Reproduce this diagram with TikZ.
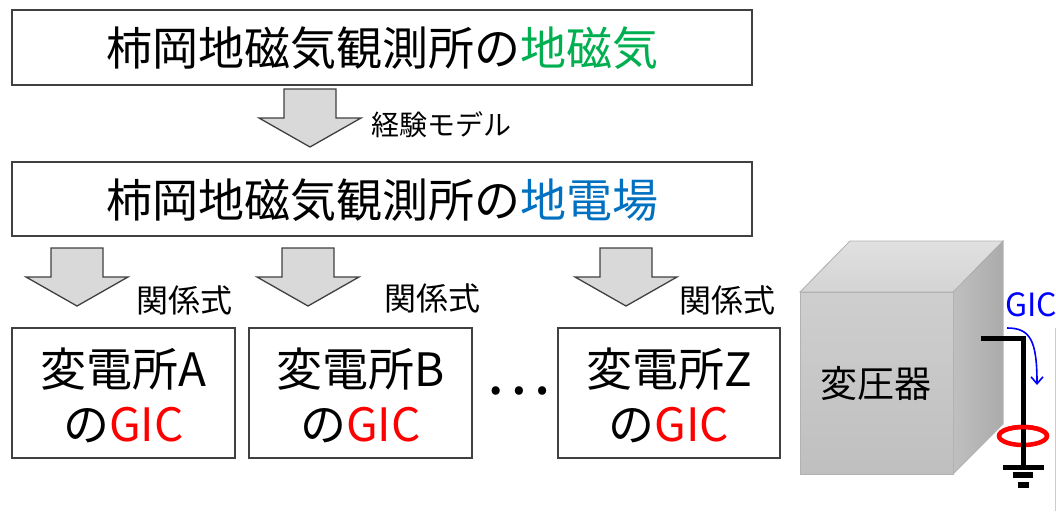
\documentclass[tikz,border=0pt]{standalone}
\usepackage{fontspec}
\setmainfont{Noto Sans CJK JP}
\usetikzlibrary{arrows.meta}
\definecolor{boxline}{HTML}{404040}
\definecolor{arrowfill}{HTML}{D9D9D9}
\definecolor{geogreen}{HTML}{00B050}
\definecolor{geoblue}{HTML}{0070C0}
\definecolor{gicred}{HTML}{FF0000}
\definecolor{gicblue}{HTML}{0000FF}
\tikzset{
  x=1pt, y=-1pt,
  textbox/.style={draw=boxline, line width=1.6pt, fill=white},
  bigtext/.style={font=\fontsize{46}{50}\selectfont},
  sublabel/.style={font=\fontsize{32}{36}\selectfont, anchor=west},
  stationtext/.style={font=\fontsize{46}{55}\selectfont, align=center},
  downarrow/.pic={
    \draw[draw=boxline, line width=1.3pt, fill=arrowfill, line join=miter]
      (-26,0) -- (26,0) -- (26,29) -- (51,29) -- (0,58) -- (-51,29) -- (-26,29) -- cycle;
  },
}
\begin{document}
\begin{tikzpicture}
\useasboundingbox (0,0) rectangle (1056,511);

% measured field and model
\draw[textbox] (12,10) rectangle (752,85);
\node[bigtext] (mag) at (382,48) {柿岡地磁気観測所の\textcolor{geogreen}{地磁気}};
\pic at (310,89) {downarrow};
\node[font=\fontsize{28}{32}\selectfont, anchor=west] (model) at (368,125) {経験モデル};

\draw[textbox] (12,162) rectangle (752,236);
\node[bigtext] (elec) at (382,200) {柿岡地磁気観測所の\textcolor{geoblue}{地電場}};

% relations to each substation
\pic at (77,248) {downarrow};
\pic at (308,248) {downarrow};
\pic at (626,248) {downarrow};
\node[sublabel] (relA) at (133,300) {関係式};
\node[sublabel] (relB) at (381,298) {関係式};
\node[sublabel] (relZ) at (676,300) {関係式};

\draw[textbox] (12,328) rectangle (235,458);
\draw[textbox] (249,328) rectangle (472,458);
\draw[textbox] (558,328) rectangle (780,458);
\node[stationtext] (subA) at (123.5,395) {変電所A\\の\textcolor{gicred}{GIC}};
\node[stationtext] (subB) at (360.5,395) {変電所B\\の\textcolor{gicred}{GIC}};
\node[stationtext] (subZ) at (669,395) {変電所Z\\の\textcolor{gicred}{GIC}};
\node[font=\fontsize{62}{66}\selectfont] (dots) at (518,391) {…};

% transformer block
\fill[left color=black!25, right color=black!33, draw=black!30, line width=0.8pt]
  (953,292) -- (1003,241) -- (1003,424) -- (953,474) -- cycle;
\fill[top color=black!12, bottom color=black!17, draw=black!30, line width=0.8pt]
  (800,292) -- (850,241) -- (1003,241) -- (953,292) -- cycle;
\fill[top color=black!19, bottom color=black!25, draw=black!30, line width=0.8pt]
  (800,292) rectangle (953,474);
\node[font=\fontsize{37}{40}\selectfont] (xfmr) at (876,383) {変圧器};

% grounding wire with current sensor
\coordinate (w0) at (981,338);
\coordinate (w1) at (1023,338);
\coordinate (gnd) at (1023,467);
\draw[gicred, line width=4.5pt] (1023,436) ellipse [x radius=24, y radius=9];
\draw[line width=5pt, line join=miter] (w0) -- (w1) -- (gnd);
\draw[gicred, line width=4.5pt] (999,436) arc[start angle=180, end angle=360, x radius=24, y radius=9];
\fill (1003,464.5) rectangle (1044,470);
\fill (1013,472) rectangle (1033,478);
\fill (1018,482) rectangle (1029,488);

% GIC flow
\node[font=\fontsize{32}{36}\selectfont, text=gicblue, anchor=west, inner sep=0pt] (gic) at (1005,305) {GIC};
\coordinate (f0) at (1007,328);
\coordinate (f1) at (1037,385);
\draw[gicblue, line width=1.6pt, -{Straight Barb[length=7pt, width=12pt]}]
  (f0) .. controls (1030,328) and (1037,340) .. (f1);

% edge of neighbouring panel
\draw[black!20, line width=0.8pt] (1055,328) -- (1055,511);
\end{tikzpicture}
\end{document}
